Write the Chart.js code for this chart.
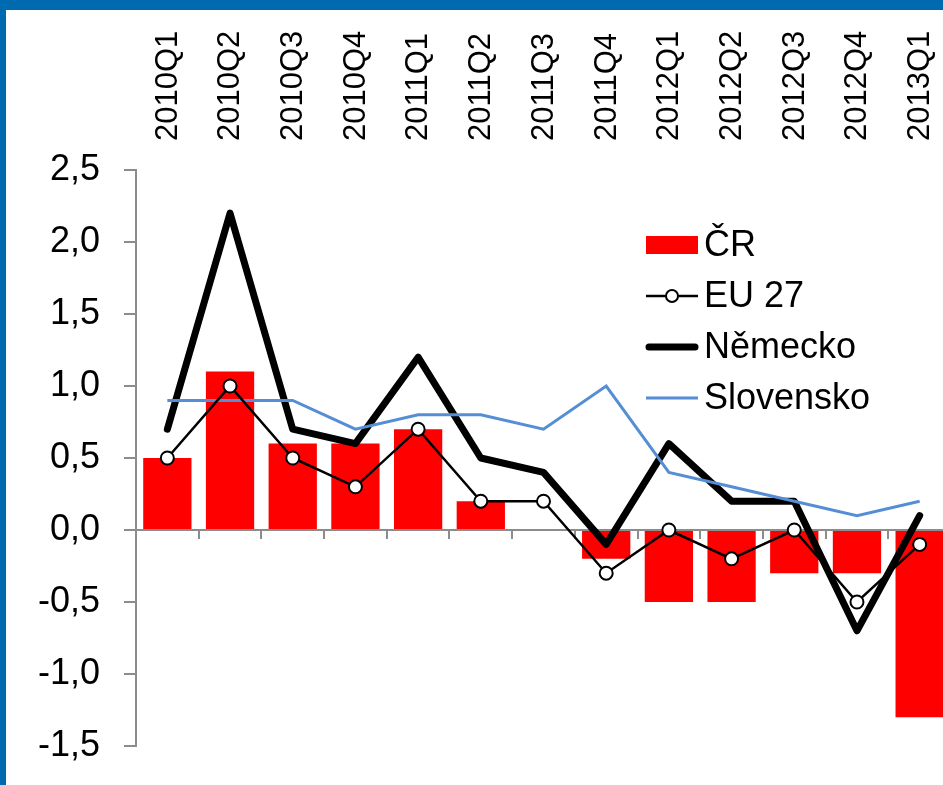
<!DOCTYPE html>
<html>
<head>
<meta charset="utf-8">
<script src="https://cdn.jsdelivr.net/npm/chart.js@4/dist/chart.umd.min.js"></script>
<style>
  html, body { margin: 0; padding: 0; background: #ffffff; overflow: hidden; width: 943px; height: 785px; }
  #frame { position: absolute; left: 0; top: 0; width: 1000px; height: 785px; box-sizing: border-box;
           border-top: 10px solid #006AB0; border-left: 6px solid #006AB0; background: #ffffff; }
  #wrap { position: absolute; left: 6px; top: 10px; width: 965px; height: 775px; }
</style>
</head>
<body>
<div id="frame"></div>
<div id="wrap"><canvas id="c"></canvas></div>
<script>
const categories = ['2010Q1','2010Q2','2010Q3','2010Q4','2011Q1','2011Q2','2011Q3','2011Q4','2012Q1','2012Q2','2012Q3','2012Q4','2013Q1'];
const cr        = [0.5, 1.1, 0.6, 0.6, 0.7, 0.2, 0.0, -0.2, -0.5, -0.5, -0.3, -0.3, -1.3];
const eu27      = [0.5, 1.0, 0.5, 0.3, 0.7, 0.2, 0.2, -0.3, 0.0, -0.2, 0.0, -0.5, -0.1];
const nemecko   = [0.7, 2.2, 0.7, 0.6, 1.2, 0.5, 0.4, -0.1, 0.6, 0.2, 0.2, -0.7, 0.1];
const slovensko = [0.9, 0.9, 0.9, 0.7, 0.8, 0.8, 0.7, 1.0, 0.4, 0.3, 0.2, 0.1, 0.2];
const yTicks = { min: -1.5, max: 2.5, step: 0.5 };

const FONT = "'Liberation Sans', Arial, sans-serif";
const AXIS_GRAY = '#8c8c8c';

const legendPlugin = {
  id: 'insideLegend',
  afterDatasetsDraw(chart) {
    const ctx = chart.ctx;
    const x0 = 640, y0 = 235, gap = 51, w = 52, tx = 698;
    ctx.save();
    ctx.font = '36px ' + FONT;
    ctx.textBaseline = 'middle';
    ctx.fillStyle = '#000';
    chart.data.datasets.forEach((ds, i) => {
      const y = y0 + i * gap;
      if (ds.type === 'bar') {
        ctx.fillStyle = ds.backgroundColor;
        ctx.fillRect(x0, y - 9, w, 18);
      } else {
        const inset = ds.borderWidth > 4 ? 3 : 0;
        ctx.strokeStyle = ds.borderColor;
        ctx.lineWidth = ds.borderWidth;
        ctx.lineCap = ds.borderCapStyle || 'butt';
        ctx.beginPath(); ctx.moveTo(x0 + inset, y); ctx.lineTo(x0 + w - inset, y); ctx.stroke();
        if (ds.pointRadius > 0) {
          ctx.beginPath();
          ctx.arc(x0 + w / 2, y, 6, 0, Math.PI * 2);
          ctx.fillStyle = ds.pointBackgroundColor; ctx.fill();
          ctx.lineWidth = ds.pointBorderWidth; ctx.strokeStyle = ds.pointBorderColor; ctx.stroke();
        }
      }
      ctx.fillStyle = '#000';
      ctx.fillText(ds.label, tx, y + 1);
    });
    ctx.restore();
  }
};

new Chart(document.getElementById('c'), {
  type: 'bar',
  data: {
    labels: categories,
    datasets: [
      { type: 'bar', label: 'ČR', data: cr, backgroundColor: '#FF0000', borderWidth: 0,
        barPercentage: 0.77, categoryPercentage: 1.0, order: 4, xAxisID: 'x', yAxisID: 'y' },
      { type: 'line', label: 'EU 27', data: eu27, borderColor: '#000000', borderWidth: 2.5,
        pointRadius: 6.5, pointBackgroundColor: '#ffffff', pointBorderColor: '#000000', pointBorderWidth: 2,
        tension: 0, order: 1, xAxisID: 'x', yAxisID: 'y' },
      { type: 'line', label: 'Německo', data: nemecko, borderColor: '#000000', borderWidth: 7,
        borderCapStyle: 'round', borderJoinStyle: 'round', pointRadius: 0, tension: 0, order: 3, xAxisID: 'x', yAxisID: 'y' },
      { type: 'line', label: 'Slovensko', data: slovensko, borderColor: '#558ED5', borderWidth: 3,
        pointRadius: 0, tension: 0, order: 2, xAxisID: 'x', yAxisID: 'y' }
    ]
  },
  options: {
    responsive: true,
    maintainAspectRatio: false,
    animation: false,
    layout: { padding: { left: 0, top: 0, right: 20, bottom: 39 } },
    plugins: { legend: { display: false }, tooltip: { enabled: false } },
    scales: {
      x: {
        type: 'category', position: 'top', offset: true,
        grid: { display: false, offset: true },
        border: { display: false },
        ticks: { minRotation: 90, maxRotation: 90, autoSkip: false, padding: 21, labelOffset: 38,
                 color: '#000', font: { family: FONT, size: 31 } },
        afterFit(s) { s.height = 160; }
      },
      x2: {
        type: 'category', position: { y: 0 }, offset: true,
        grid: { display: true, drawOnChartArea: false, drawTicks: true, tickLength: 8, offset: true,
                color: AXIS_GRAY, lineWidth: 2 },
        border: { display: true, color: AXIS_GRAY, width: 2 },
        ticks: { display: false }
      },
      y: {
        type: 'linear', position: 'left', min: yTicks.min, max: yTicks.max,
        grid: { display: true, drawOnChartArea: false, drawTicks: true, tickLength: 12, color: AXIS_GRAY, lineWidth: 2 },
        border: { display: true, color: AXIS_GRAY, width: 2 },
        ticks: { stepSize: yTicks.step, padding: 24, color: '#000', font: { family: FONT, size: 36 },
                 callback: v => v.toFixed(1).replace('.', ',') },
        afterFit(s) { s.width = 130; s.paddingTop = 0; s.paddingBottom = 0; }
      }
    }
  },
  plugins: [legendPlugin]
});
</script>
</body>
</html>
